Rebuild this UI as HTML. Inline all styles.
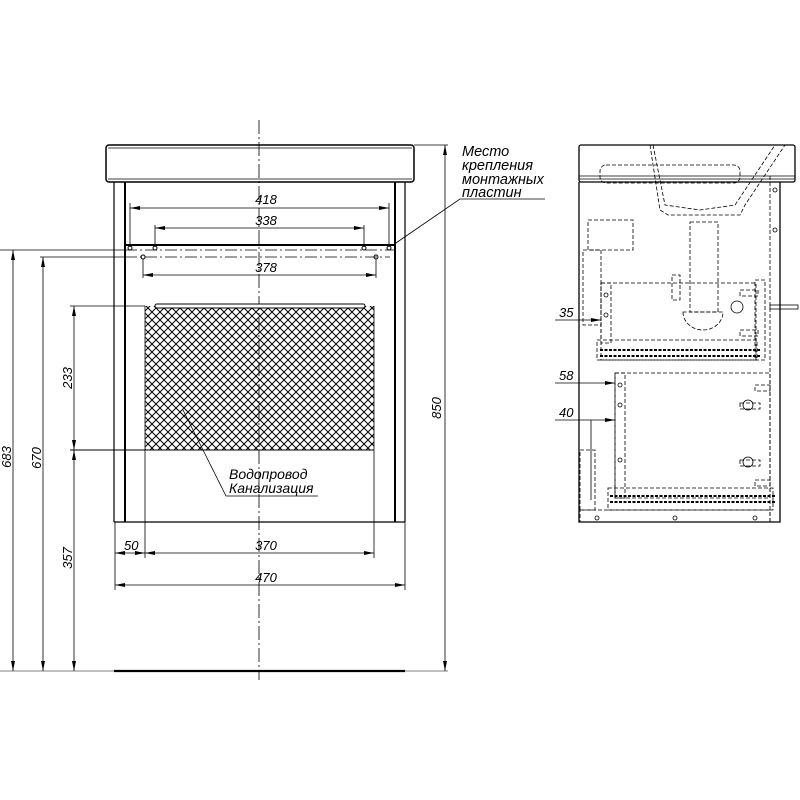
<!DOCTYPE html>
<html><head><meta charset="utf-8"><style>
html,body{margin:0;padding:0;background:#fff;}
svg{display:block;}
text{font-family:"Liberation Sans",sans-serif;font-style:italic;fill:#000;}
</style></head><body>
<svg width="800" height="800" viewBox="0 0 800 800" xmlns="http://www.w3.org/2000/svg">
<defs>
<pattern id="h" width="8" height="8" patternUnits="userSpaceOnUse">
<path d="M0 0L8 8M8 0L0 8" stroke="#000" stroke-width="1"/>
</pattern>
<marker id="a" viewBox="0 0 10 4" refX="10" refY="2" markerWidth="10" markerHeight="4" orient="auto-start-reverse" markerUnits="userSpaceOnUse"><path d="M0 0L10 2L0 4z" fill="#000"/></marker>
</defs>
<g fill="none" stroke="#000">
<line x1="259" y1="120" x2="259" y2="680" stroke-width="0.8" stroke-dasharray="14,3,2,3"/>
<rect x="106" y="145" width="308" height="37" rx="3" stroke-width="1.5"/>
<line x1="108" y1="148" x2="412" y2="148" stroke-width="0.7"/>
<line x1="108" y1="179" x2="412" y2="179" stroke-width="0.7"/>
<line x1="114" y1="182" x2="114" y2="522" stroke-width="1.2"/>
<line x1="125" y1="182" x2="125" y2="522" stroke-width="2"/>
<line x1="395" y1="182" x2="395" y2="522" stroke-width="2"/>
<line x1="405" y1="182" x2="405" y2="522" stroke-width="1.2"/>
<line x1="114" y1="522" x2="405" y2="522" stroke-width="1.2"/>
<line x1="125" y1="245" x2="395" y2="245" stroke-width="2"/>
<line x1="0" y1="250" x2="125" y2="250" stroke-width="0.7"/>
<line x1="125" y1="250" x2="395" y2="250" stroke-width="0.7" stroke-dasharray="12,3,2,3"/>
<line x1="40" y1="257" x2="125" y2="257" stroke-width="0.7"/>
<line x1="125" y1="257" x2="390" y2="257" stroke-width="0.7" stroke-dasharray="12,3,2,3"/>
<g stroke-width="1"><circle cx="130" cy="248" r="2"/><circle cx="155" cy="248" r="2"/><circle cx="364" cy="248" r="2"/><circle cx="389" cy="248" r="2"/><circle cx="143" cy="257" r="2"/><circle cx="376" cy="257" r="2"/></g>
<g stroke-width="0.8">
<line x1="130" y1="203" x2="130" y2="247"/><line x1="389" y1="203" x2="389" y2="247"/>
<line x1="130" y1="208" x2="389" y2="208" marker-start="url(#a)" marker-end="url(#a)"/>
<line x1="155" y1="225" x2="155" y2="247"/><line x1="364" y1="225" x2="364" y2="247"/>
<line x1="155" y1="228" x2="364" y2="228" marker-start="url(#a)" marker-end="url(#a)"/>
<line x1="143" y1="259" x2="143" y2="278"/><line x1="376" y1="259" x2="376" y2="278"/>
<line x1="143" y1="275" x2="376" y2="275" marker-start="url(#a)" marker-end="url(#a)"/>
</g>
<rect x="145" y="306" width="229" height="144" fill="url(#h)" stroke="none"/>
<rect x="155" y="304" width="210" height="4" rx="2" stroke-width="1" fill="#fff"/>
<line x1="145" y1="306" x2="145" y2="558" stroke-width="0.8"/>
<line x1="374" y1="306" x2="374" y2="558" stroke-width="0.8"/>
<line x1="70" y1="306" x2="145" y2="306" stroke-width="0.8"/>
<line x1="70" y1="450" x2="374" y2="450" stroke-width="1"/>
<polyline points="183,410 226,496 318,496" stroke-width="0.8"/>
<g stroke-width="0.8">
<line x1="115" y1="522" x2="115" y2="590"/><line x1="405" y1="522" x2="405" y2="590"/>
<line x1="115" y1="553" x2="145" y2="553" marker-start="url(#a)" marker-end="url(#a)"/>
<line x1="145" y1="553" x2="374" y2="553" marker-start="url(#a)" marker-end="url(#a)"/>
<line x1="115" y1="585" x2="405" y2="585" marker-start="url(#a)" marker-end="url(#a)"/>
</g>
<line x1="0" y1="671" x2="448" y2="671" stroke-width="0.6"/>
<line x1="114" y1="671" x2="405" y2="671" stroke-width="2.2"/>
<g stroke-width="0.8">
<line x1="13" y1="250" x2="13" y2="671" marker-start="url(#a)" marker-end="url(#a)"/>
<line x1="43" y1="257" x2="43" y2="671" marker-start="url(#a)" marker-end="url(#a)"/>
<line x1="74" y1="306" x2="74" y2="450" marker-start="url(#a)" marker-end="url(#a)"/>
<line x1="74" y1="450" x2="74" y2="671" marker-start="url(#a)" marker-end="url(#a)"/>
<line x1="414" y1="145" x2="448" y2="145"/>
<line x1="445" y1="145" x2="445" y2="671" marker-start="url(#a)" marker-end="url(#a)"/>
<polyline points="393,245 460,199 545,199"/>
</g>

<rect x="579" y="145" width="216" height="37" rx="2" stroke-width="1.3"/>
<line x1="579" y1="176" x2="795" y2="176" stroke-width="0.8"/>
<line x1="579" y1="179" x2="795" y2="179" stroke-width="0.8"/>
<polyline points="579,182 579,522 780,522 780,182" stroke-width="1.3"/>
<g stroke-width="0.8" stroke-dasharray="4,2">
<line x1="770" y1="176" x2="770" y2="522"/>
<polyline points="650,145 660,210 668,215 740,215 745,205 785,145"/>
<polyline points="653,145 665,205 700,210 735,205 775,145"/>
<rect x="600" y="165" width="140" height="18" rx="6"/>
<rect x="588" y="220" width="45" height="30"/>
<rect x="583" y="250" width="18" height="75"/>
<rect x="690" y="222" width="28" height="90"/>
<rect x="672" y="275" width="8" height="25"/>
<path d="M683 312 A20 18 0 0 0 723 312 Z"/>
<rect x="601" y="283" width="155" height="77"/>
<rect x="601" y="283" width="10" height="60"/>
<rect x="755" y="280" width="10" height="80"/>
<rect x="597" y="340" width="160" height="20"/>
<rect x="615" y="373" width="155" height="125"/>
<rect x="615" y="373" width="10" height="125"/>
<rect x="580" y="450" width="15" height="60"/>
<rect x="608" y="488" width="165" height="22"/>
<rect x="580" y="510" width="190" height="12"/>
<rect x="740" y="290" width="18" height="6"/><rect x="740" y="330" width="18" height="6"/>
<rect x="740" y="403" width="20" height="6"/><rect x="740" y="460" width="20" height="6"/><rect x="755" y="385" width="15" height="6"/><rect x="755" y="480" width="15" height="6"/>
</g>
<g stroke-width="2" stroke-dasharray="3,1.5">
<line x1="600" y1="350" x2="760" y2="350"/><line x1="600" y1="356" x2="760" y2="356"/>
<line x1="610" y1="496" x2="775" y2="496"/><line x1="610" y1="502" x2="775" y2="502"/>
</g>
<g stroke-width="0.8">
<circle cx="737" cy="307" r="6"/><circle cx="748" cy="405" r="5"/><circle cx="748" cy="462" r="5"/>
<circle cx="606" cy="295" r="2"/><circle cx="606" cy="315" r="2"/><circle cx="620" cy="385" r="2"/><circle cx="620" cy="405" r="2"/><circle cx="620" cy="460" r="2"/>
<circle cx="775" cy="190" r="2"/><circle cx="775" cy="230" r="2"/><circle cx="597" cy="518" r="2"/><circle cx="675" cy="518" r="2"/><circle cx="755" cy="518" r="2"/>
<rect x="770" y="305" width="28" height="4"/>
<line x1="555" y1="320" x2="601" y2="320" marker-end="url(#a)"/>
<line x1="555" y1="383" x2="615" y2="383" marker-end="url(#a)"/>
<line x1="555" y1="420" x2="615" y2="420" marker-end="url(#a)"/>
<line x1="591" y1="420" x2="591" y2="500"/>
</g>
</g>
<g font-size="13">
<text x="259" y="204" text-anchor="middle" dx="7">418</text>
<text x="259" y="225" text-anchor="middle" dx="7">338</text>
<text x="259" y="272" text-anchor="middle" dx="7">378</text>
<text x="124" y="550">50</text>
<text x="259" y="550" text-anchor="middle" dx="7">370</text>
<text x="259" y="582" text-anchor="middle" dx="7">470</text>
<text x="229" y="479" font-size="14">Водопровод</text>
<text x="229" y="493" font-size="14">Канализация</text>
<text x="462" y="156" font-size="14.5">Место</text>
<text x="462" y="170" font-size="14.5">крепления</text>
<text x="462" y="184" font-size="14.5">монтажных</text>
<text x="462" y="197" font-size="14.5">пластин</text>
<text x="559" y="317">35</text>
<text x="559" y="380">58</text>
<text x="559" y="417">40</text>
<text transform="translate(11,457) rotate(-90)" text-anchor="middle">683</text>
<text transform="translate(41,458) rotate(-90)" text-anchor="middle">670</text>
<text transform="translate(72,378) rotate(-90)" text-anchor="middle">233</text>
<text transform="translate(72,558) rotate(-90)" text-anchor="middle">357</text>
<text transform="translate(441,408) rotate(-90)" text-anchor="middle">850</text>
</g>
</svg>
</body></html>
